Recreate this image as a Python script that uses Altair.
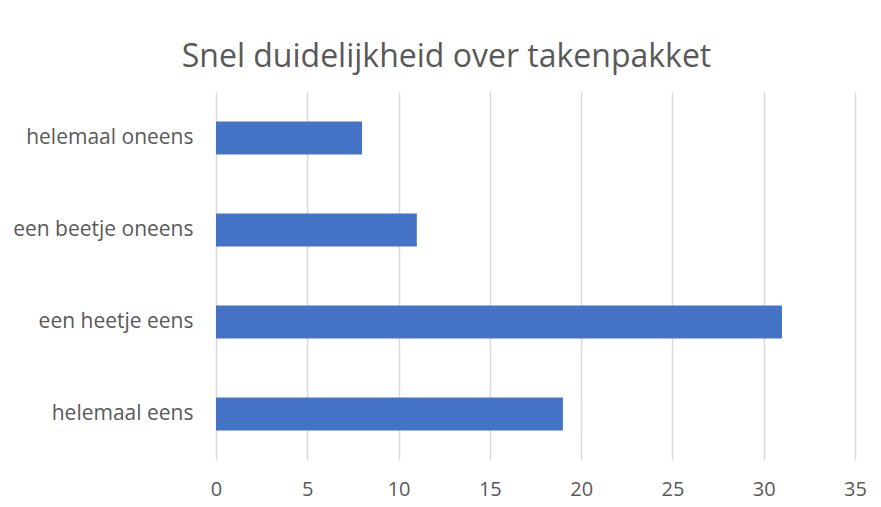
import altair as alt
import pandas as pd

categories = ["helemaal oneens", "een beetje oneens", "een heetje eens", "helemaal eens"]
values = [8, 11, 31, 19]

df = pd.DataFrame({"cat": categories, "val": values})

FONT = "Open Sans"
TXT = "#595959"

chart = alt.Chart(df).mark_bar(color="#4472C4").encode(
    x=alt.X("val:Q", scale=alt.Scale(domain=[0, 35], nice=False),
            axis=alt.Axis(values=[0, 5, 10, 15, 20, 25, 30, 35], title=None, domain=False,
                          ticks=False, labelPadding=19, labelFontSize=20, labelColor=TXT,
                          labelFont=FONT, labelFlush=False, grid=True, gridColor="#d9d9d9",
                          gridWidth=1.5)),
    y=alt.Y("cat:N", sort=categories,
            scale=alt.Scale(paddingInner=0.64, paddingOuter=0.32),
            axis=alt.Axis(title=None, domain=False, ticks=False, labelPadding=23,
                          labelFontSize=21, labelColor=TXT, labelFont=FONT, labelLimit=400,
                          grid=False)),
).properties(
    width=639, height=368,
    title=alt.TitleParams("Snel duidelijkheid over takenpakket", fontSize=32, font=FONT,
                          fontWeight="normal", color=TXT, anchor="middle", dx=-89, offset=18),
    autosize=alt.AutoSizeParams(type="none"),
    padding={"left": 208, "top": 84, "right": 18, "bottom": 50},
).configure(background="white").configure_view(stroke=None, strokeWidth=0)

chart.save("out.html", embed_options={"renderer": "svg", "actions": False})
